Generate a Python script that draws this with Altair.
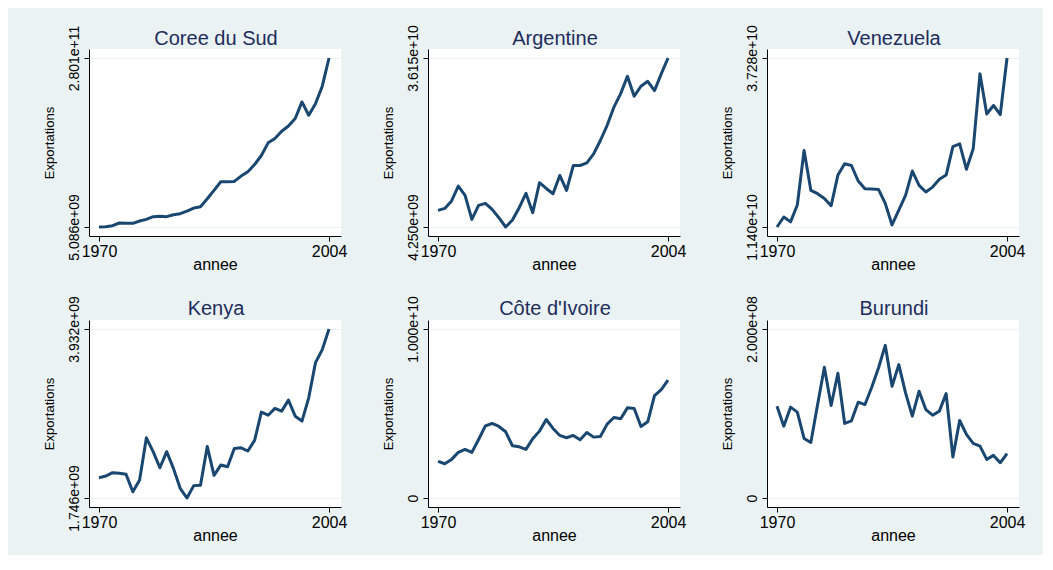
import altair as alt
import pandas as pd

# ---------------- data (exports) ----------------
years = list(range(1970, 2005))

# values in billions (1e9) of exports
coree = [5.086, 5.64, 7.26, 11.58, 11.05, 11.05, 14.82, 17.54, 21.86, 22.41,
         21.86, 25.1, 26.73, 31.07, 35.9, 38.1, 51.0, 64.6, 78.7, 78.7,
         79.3, 87.9, 95.0, 106.8, 121.4, 142.0, 149.2, 161.0, 169.5, 181.6,
         208.6, 186.9, 205.8, 234.2, 280.1]
argentine = [7.38, 7.76, 9.16, 11.97, 10.22, 5.69, 8.33, 8.72, 7.57, 6.00,
             4.25, 5.56, 7.89, 10.60, 6.96, 12.61, 11.52, 10.53, 13.98, 11.17,
             15.86, 15.86, 16.37, 18.06, 20.58, 23.45, 26.87, 29.42, 32.70, 28.94,
             30.82, 31.75, 30.00, 33.15, 36.15]
venezuela = [11.40, 12.93, 12.18, 14.76, 23.12, 17.02, 16.50, 15.77, 14.66, 19.35,
             21.08, 20.82, 18.44, 17.25, 17.20, 17.15, 15.02, 11.71, 13.99, 16.24,
             19.97, 17.77, 16.76, 17.51, 18.72, 19.35, 23.72, 24.13, 20.23, 23.38,
             34.85, 28.71, 30.01, 28.61, 37.28]
kenya = [2.008, 2.030, 2.074, 2.065, 2.052, 1.827, 1.978, 2.524, 2.345, 2.137,
         2.345, 2.129, 1.871, 1.746, 1.906, 1.910, 2.413, 2.039, 2.172, 2.150,
         2.387, 2.395, 2.354, 2.491, 2.857, 2.817, 2.905, 2.870, 3.012, 2.804,
         2.741, 3.042, 3.497, 3.665, 3.932]
cote_ivoire = [2.165, 2.028, 2.283, 2.697, 2.874, 2.697, 3.465, 4.272, 4.409, 4.232,
               3.917, 3.091, 3.031, 2.874, 3.504, 3.957, 4.646, 4.114, 3.701, 3.563,
               3.701, 3.445, 3.878, 3.602, 3.642, 4.370, 4.764, 4.685, 5.335, 5.295,
               4.232, 4.508, 6.063, 6.417, 6.969]
burundi = [0.1087, 0.0850, 0.1075, 0.1016, 0.0705, 0.0657, 0.1106, 0.1547, 0.1094, 0.1476,
           0.0882, 0.0913, 0.1134, 0.1106, 0.1311, 0.1539, 0.1807, 0.1323, 0.1579, 0.1244,
           0.0969, 0.1264, 0.1047, 0.0980, 0.1028, 0.1236, 0.0484, 0.0917, 0.0752, 0.0646,
           0.0614, 0.0457, 0.0504, 0.0417, 0.0524]

titles = ["Coree du Sud", "Argentine", "Venezuela", "Kenya", "Côte d'Ivoire", "Burundi"]
series = [coree, argentine, venezuela, kenya, cote_ivoire, burundi]
# y-axis tick values (billions)
yticks = [[5.086, 280.1], [4.25, 36.15], [11.40, 37.28],
          [1.746, 3.932], [0.0, 10.0], [0.0, 0.2]]
xticks = [1970, 2004]

BILLION = 1e9
FONT = "Liberation Sans"
LINE = "#1A476F"
TITLE_C = "#1E2D5C"
BG = "#EAF2F3"
W, H = 252, 187

label_expr = ("datum.value == 0 ? '0' : (abs(datum.value) < 1e10 ? "
              "replace(format(datum.value, '.3e'), 'e+', 'e+0') : format(datum.value, '.3e'))")


def panel(name, vals, ticks, title_y):
    df = pd.DataFrame({"annee": years, "Exportations": [v * BILLION for v in vals]})
    t0, t1 = ticks[0] * BILLION, ticks[1] * BILLION
    pad = 0.0533 * (t1 - t0)
    base = alt.Chart(df)
    line = base.mark_line(color=LINE, strokeWidth=3, strokeJoin="round").encode(
        x=alt.X("annee:Q",
                scale=alt.Scale(domain=[1968.52, 2005.77], nice=False, zero=False),
                axis=alt.Axis(values=xticks, format="d", title="annee",
                              labelFontSize=16, titleFontSize=16, labelPadding=2,
                              titlePadding=-3, grid=False, labelFlush=False,
                              labelOverlap=False)),
        y=alt.Y("Exportations:Q",
                scale=alt.Scale(domain=[t0 - pad, t1 + pad], nice=False, zero=False),
                axis=alt.Axis(values=[t0, t1], labelExpr=label_expr, title="Exportations",
                              labelAngle=270, labelAlign="center", labelBaseline="bottom",
                              labelFontSize=14, labelPadding=3, titleFontSize=13,
                              titlePadding=11, grid=True, gridColor=BG, labelFlush=False,
                              labelOverlap=False)),
    )
    ttl = alt.Chart(pd.DataFrame({"t": [name]})).mark_text(
        font=FONT, fontSize=20, color=TITLE_C, align="center", baseline="alphabetic"
    ).encode(x=alt.value(W / 2 + 1), y=alt.value(title_y), text="t:N")
    return alt.layer(line, ttl).properties(width=W, height=H)


panels = [panel(titles[i], series[i], yticks[i], -4 if i < 3 else -5) for i in range(6)]

chart = alt.concat(*panels, columns=3, spacing={"row": 84, "column": 87}, bounds="flush").properties(
    padding={"left": 35, "top": 16, "right": 18, "bottom": 12}
).configure(
    background=BG,
    font=FONT,
).configure_view(
    stroke=None, fill="white"
).configure_axis(
    domainColor="black", tickColor="black", tickSize=5, domainWidth=1, tickWidth=1,
    labelColor="black", titleColor="black", labelFont=FONT, titleFont=FONT,
    titleFontWeight="normal"
)

chart.save("out.html", embed_options={"renderer": "svg", "actions": False})
